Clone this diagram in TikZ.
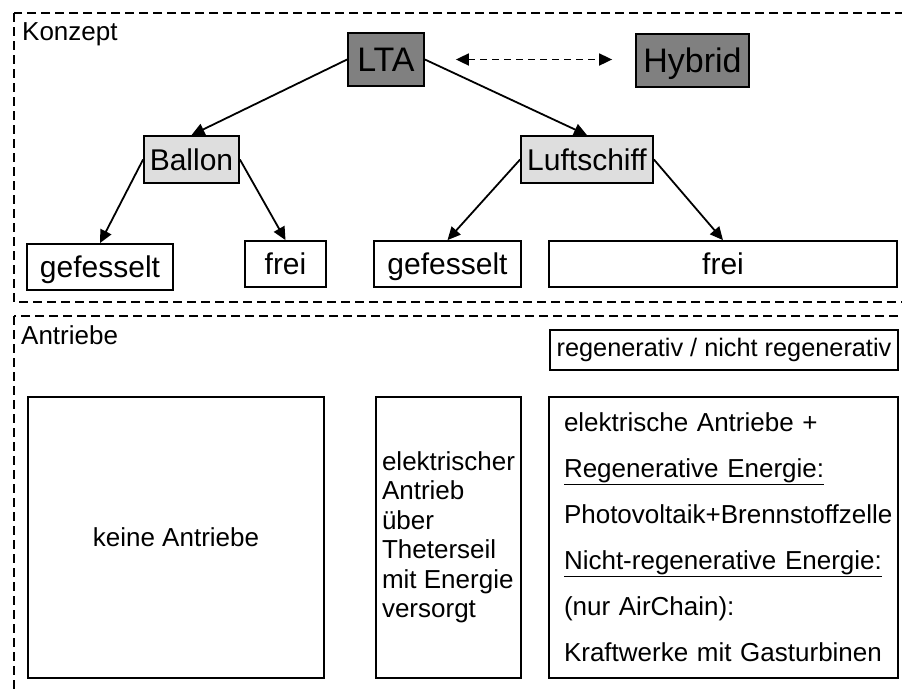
\documentclass[tikz,border=0pt]{standalone}
\usepackage{fontspec}
\setmainfont{Liberation Sans}
\usetikzlibrary{arrows.meta, positioning}
\tikzset{
  mainbox/.style={rectangle, draw, line width=1.8pt, fill=black!50, inner sep=0pt,
                  font=\fontsize{34}{39}\selectfont, text height=24.3pt, text depth=0pt,
                  minimum height=53pt},
  typebox/.style={rectangle, draw, line width=1.8pt, fill=black!13, inner sep=0pt,
                  font=\fontsize{30}{35}\selectfont, text height=21.5pt, text depth=0pt,
                  minimum height=47pt},
  leafbox/.style={rectangle, draw, line width=1.8pt, fill=white, inner sep=0pt,
                  font=\fontsize{30}{35}\selectfont, text height=21.5pt, text depth=0pt,
                  minimum height=46pt},
  drivebox/.style={rectangle, draw, line width=1.8pt, inner sep=0pt,
                   font=\fontsize{26}{29.5}\selectfont, minimum height=281pt},
  arrow/.style={-{Triangle[length=13pt, width=12pt]}, line width=1.8pt},
  swaparrow/.style={{Triangle[length=13pt, width=12pt]}-{Triangle[length=13pt, width=12pt]},
                    line width=1.8pt, dash pattern=on 7pt off 5pt},
  section/.style={line width=1.8pt, dash pattern=on 9pt off 5pt},
  sectlabel/.style={anchor=base west, inner sep=0pt, font=\fontsize{26}{30}\selectfont},
}
\begin{document}
\begin{tikzpicture}[x=1pt, y=-1pt]
  \useasboundingbox (0,0) rectangle (902,689);

  % Konzept
  \draw[section] (14,13) rectangle (912,302);
  \node[sectlabel] (konzept) at (22,40) {Konzept};

  \node[mainbox, minimum width=76pt]  (lta)  at (386,59.5)   {LTA};
  \node[mainbox, minimum width=113pt] (hyb)  at (692.5,60.5) {Hybrid};
  \node[typebox, minimum width=95pt]  (bal)  at (191.5,159.5) {Ballon};
  \node[typebox, minimum width=132pt] (luft) at (587,159.5)  {Luftschiff};
  \node[leafbox, minimum width=146pt] (balg) at (100,267)    {gefesselt};
  \node[leafbox, minimum width=81pt]  (balf) at (285.5,264)  {frei};
  \node[leafbox, minimum width=147pt] (lufg) at (447.5,264)  {gefesselt};
  \node[leafbox, minimum width=348pt] (luff) at (723,264)    {frei};

  \draw[arrow] (lta.west) -- (bal.north);
  \draw[arrow] (lta.east) -- (luft.north);
  \foreach \a/\b in {bal/balg, luft/lufg}
    \draw[arrow] (\a.west) -- (\b.north);
  \foreach \a/\b in {bal/balf, luft/luff}
    \draw[arrow] (\a.east) -- (\b.north);
  \draw[swaparrow, shorten <=31pt, shorten >=23pt] (lta.east) -- (lta.east -| hyb.west);

  % Antriebe
  \draw[section] (14,316) rectangle (912,700);
  \node[sectlabel] (antr) at (21,344) {Antriebe};

  \node[leafbox, font=\fontsize{25.3}{30}\selectfont, text height=, text depth=,
        minimum width=348pt, minimum height=40pt] (regen) at (724,350)
    {regenerativ / nicht regenerativ};

  \node[drivebox, minimum width=296pt] (keine) at (176,537.5) {keine Antriebe};
  \node[drivebox, minimum width=145pt, align=left] (seil) at (448.5,537.5)
    {elektrischer\\Antrieb\\über\\Theterseil\\mit Energie\\versorgt};
  \node[drivebox, inner xsep=15pt, text width=319pt, align=left,
        font=\fontsize{26}{46}\selectfont] (elek) at (723.5,537.5)
    {elektrische Antriebe +\\\underline{Regenerative Energie:}\\Photovoltaik+Brennstoffzelle\\
     \underline{Nicht-regenerative Energie:}\\(nur AirChain):\\Kraftwerke mit Gasturbinen};
\end{tikzpicture}
\end{document}
